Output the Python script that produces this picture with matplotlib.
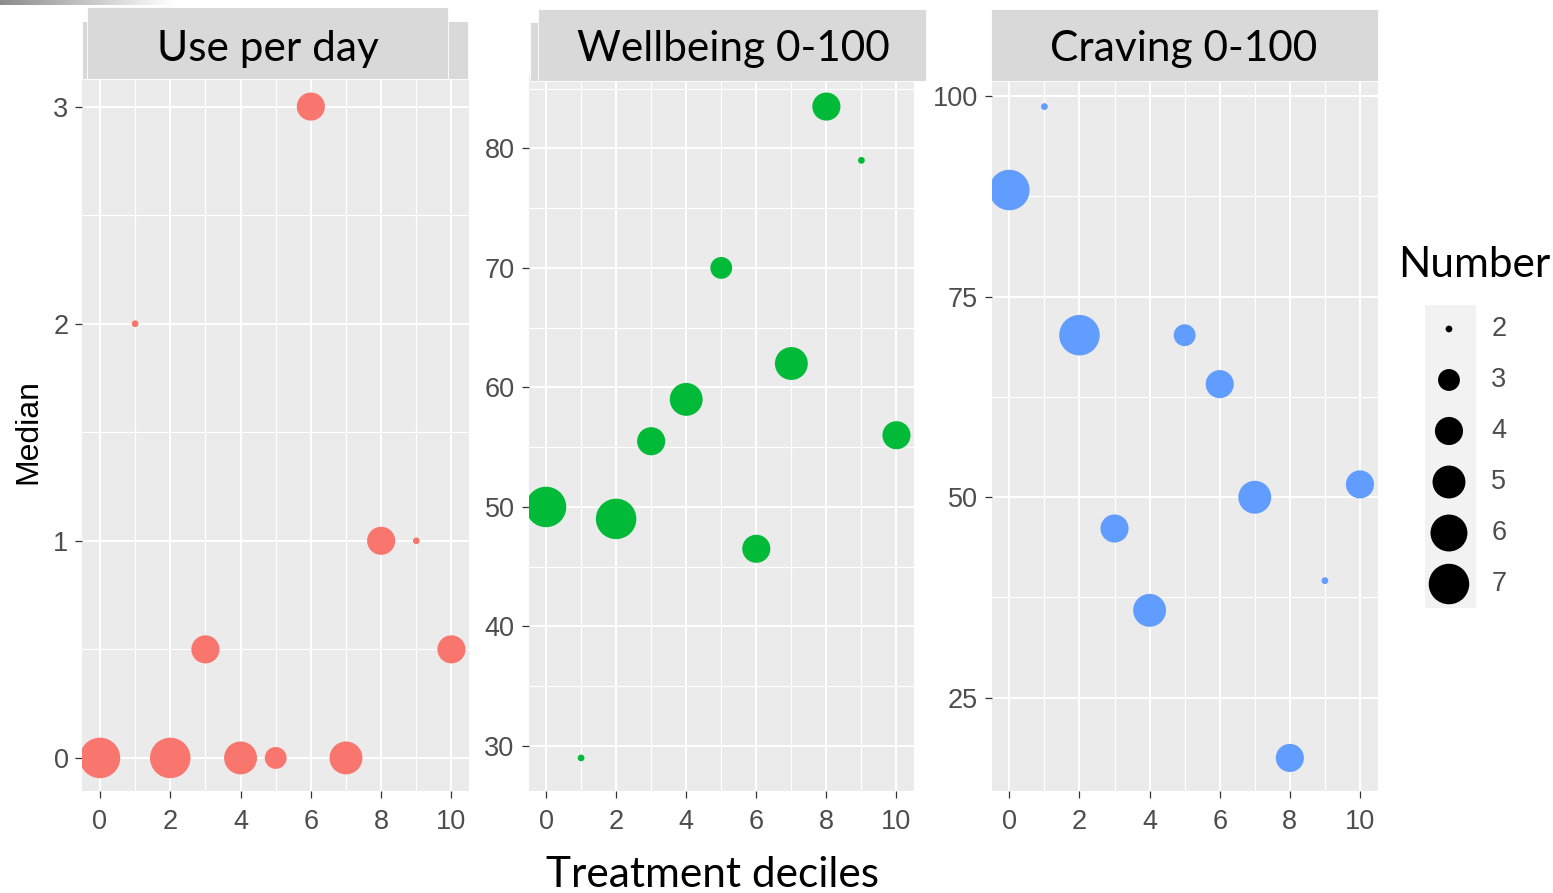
import numpy as np
import matplotlib.pyplot as plt
from matplotlib.patches import Rectangle

# data: medians per treatment decile, point size = Number
deciles = [0, 1, 2, 3, 4, 5, 6, 7, 8, 9, 10]
number = [7, 2, 7, 4, 5, 3, 4, 5, 4, 2, 4]
use_per_day = [0, 2, 0, 0.5, 0, 0, 3, 0, 1, 1, 0.5]
wellbeing = [50, 29, 49, 55.5, 59, 70, 46.5, 62, 83.5, 79, 56]
craving = [88.3, 98.7, 70.2, 46.1, 35.9, 70.2, 64.1, 50, 17.5, 39.6, 51.6]
legend_levels = [2, 3, 4, 5, 6, 7]

titles = ["Use per day", "Wellbeing 0-100", "Craving 0-100"]
colors = ["#F8766D", "#00BA38", "#619CFF"]

W, H = 1553, 893
fig = plt.figure(figsize=(W / 100, H / 100), dpi=100)


def box(l, t, r, b):
    # pixel box (top-down) -> figure fraction
    return [l / W, 1 - b / H, (r - l) / W, (b - t) / H]


def marker_area(n):
    # ggplot-like area scale, diameter in px -> marker area in pt^2
    d = 6.75 * (1 + 5 * np.sqrt((np.asarray(n, float) - 2) / 5))
    return (d * 0.72) ** 2


def expand(vals, frac=0.05):
    lo, hi = min(vals), max(vals)
    pad = (hi - lo) * frac
    return lo - pad, hi + pad


label_font = "Liberation Sans"
title_font = "Lato"

panels = [
    dict(x=(82.4, 469), y=use_per_day, major=[0, 1, 2, 3], minor=[0.5, 1.5, 2.5],
         strip=(87, 7, 448, 79), back=(82, 21, 468, 79), tx=268),
    dict(x=(528.5, 914), y=wellbeing, major=[30, 40, 50, 60, 70, 80],
         minor=[35, 45, 55, 65, 75, 85], strip=(538, 9, 926, 81), back=(530, 22, 914, 81), tx=733),
    dict(x=(991.8, 1377.5), y=craving, major=[25, 50, 75, 100], minor=[37.5, 62.5, 87.5],
         strip=(991, 9, 1378, 81), back=(991, 9, 1378, 81), tx=1184),
]

for i, p in enumerate(panels):
    ax = fig.add_axes(box(p["x"][0], 74, p["x"][1], 790.5))
    ax.set_facecolor("#EBEBEB")
    for s in ax.spines.values():
        s.set_visible(False)
    ax.scatter(deciles, p["y"], s=marker_area(number), marker="o",
               color=colors[i], linewidths=0, zorder=3)
    ax.set_xlim(-0.5, 10.5)
    ax.set_ylim(*expand(p["y"]))
    ax.set_xticks([0, 2, 4, 6, 8, 10])
    ax.set_xticks([1, 3, 5, 7, 9], minor=True)
    ax.set_yticks(p["major"])
    ax.set_yticks(p["minor"], minor=True)
    ax.grid(which="major", color="white", lw=1.5)
    ax.grid(which="minor", color="white", lw=0.8)
    ax.set_axisbelow(True)
    ax.tick_params(which="major", length=5, width=0.9, color="#333333",
                   labelcolor="#4D4D4D", labelsize=19.5)
    ax.tick_params(axis="x", pad=8)
    ax.tick_params(axis="y", pad=5)
    ax.tick_params(which="minor", length=0)
    for t in ax.get_xticklabels() + ax.get_yticklabels():
        t.set_fontfamily(label_font)

    # strip boxes drawn over the top of the panel
    for (l, t, r, b), c in [(p["back"], "#D9D9D9"), (p["strip"], "#D9D9D9")]:
        fig.patches.append(Rectangle((l / W, 1 - b / H), (r - l) / W, (b - t) / H,
                                     transform=fig.transFigure, facecolor=c,
                                     edgecolor="white", lw=0.6, zorder=5))
    fig.text(p["tx"] / W, 1 - 61 / H, titles[i], fontfamily=title_font, fontsize=30.5,
             ha="center", va="baseline", color="black", zorder=6)

# axis titles
fig.text(28 / W, 1 - 432 / H, "Median", rotation=90, ha="center", va="center",
         fontfamily=label_font, fontsize=23, color="black")
fig.text(712 / W, 1 - 887 / H, "Treatment deciles", ha="center", va="baseline",
         fontfamily=title_font, fontsize=30.5, color="black")

# size legend
fig.text(1474 / W, 1 - 277 / H, "Number", ha="center", va="baseline",
         fontfamily=title_font, fontsize=30.5, color="black")
lax = fig.add_axes(box(1425, 305, 1476, 608))
lax.set_facecolor("#F2F2F2")
for s in lax.spines.values():
    s.set_visible(False)
lax.set_xticks([])
lax.set_yticks([])
lax.set_xlim(0, 1)
lax.set_ylim(len(legend_levels) - 1 + 0.47, -0.47)
lax.scatter([0.47] * len(legend_levels), range(len(legend_levels)),
            s=marker_area(legend_levels), marker="o", color="black", linewidths=0)
for k, lv in enumerate(legend_levels):
    lax.text(1.3, k, str(lv), ha="left", va="center", fontfamily=label_font,
             fontsize=19.5, color="#4D4D4D", transform=lax.transData, clip_on=False)

# grey fade strip in the top-left corner
gax = fig.add_axes(box(0, 0, 175, 5))
gax.imshow(np.linspace(0.55, 1, 64)[None, :], cmap="gray", vmin=0, vmax=1, aspect="auto")
gax.axis("off")

fig.savefig("out.png", dpi=100)
